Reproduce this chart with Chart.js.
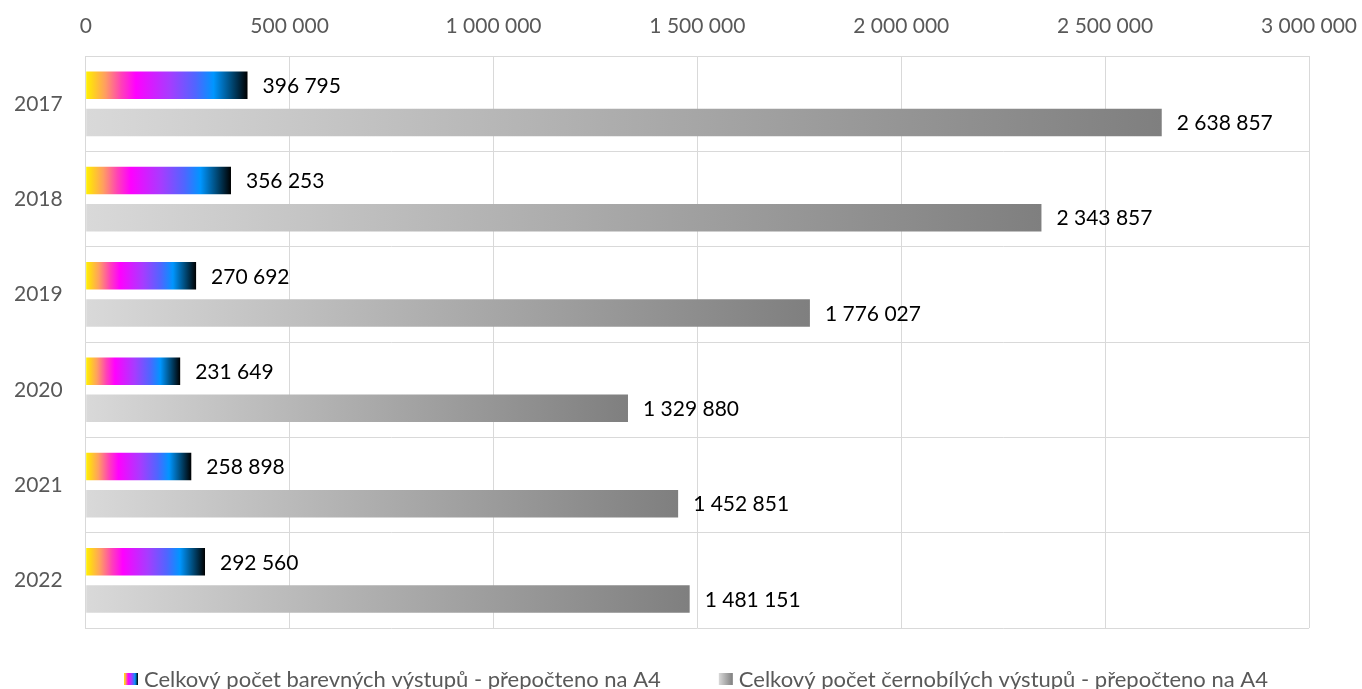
<!DOCTYPE html>
<html lang="cs">
<head>
<meta charset="utf-8">
<title>Výstupy 2017–2022</title>
<script src="https://cdn.jsdelivr.net/npm/chart.js@4/dist/chart.umd.min.js"></script>
<style>
  html, body { margin: 0; padding: 0; background: #fff; }
  #wrap { width: 1362px; height: 689px; position: relative; }
</style>
</head>
<body>
<div id="wrap"><canvas id="outputsChart"></canvas></div>
<script>
// Data
const years = ['2017', '2018', '2019', '2020', '2021', '2022'];
const colorOutputs = [396795, 356253, 270692, 231649, 258898, 292560];
const bwOutputs = [2638857, 2343857, 1776027, 1329880, 1452851, 1481151];
const xTickValues = [0, 500000, 1000000, 1500000, 2000000, 2500000, 3000000];
const seriesNames = [
    'Celkový počet barevných výstupů - přepočteno na A4',
    'Celkový počet černobílých výstupů - přepočteno na A4'
];

const FONT = 'Lato, "Open Sans", sans-serif';

// 2638857 -> "2 638 857"
function fmt(v) {
    return String(v).replace(/\B(?=(\d{3})+(?!\d))/g, ' ');
}

// colour stops of the "rainbow" fill
const rainbowStops = [
    [0.00, '#fff200'],
    [0.05, '#ffd020'],
    [0.12, '#ff9f60'],
    [0.22, '#ff40b8'],
    [0.31, '#ff00ff'],
    [0.52, '#a63cff'],
    [0.68, '#4f66ff'],
    [0.79, '#0096ff'],
    [0.90, '#004a78'],
    [1.00, '#000000']
];
const grayStops = [
    [0.00, '#d9d9d9'],
    [1.00, '#7f7f7f']
];

function makeGradient(ctx, x0, x1, stops) {
    const g = ctx.createLinearGradient(x0, 0, x1, 0);
    stops.forEach(s => g.addColorStop(s[0], s[1]));
    return g;
}

function barFill(stops, fallback) {
    return function(context) {
        const chart = context.chart;
        if (!chart.chartArea || context.raw === undefined) {
            return fallback;
        }
        const x = chart.scales.x;
        const x0 = x.getPixelForValue(0);
        const x1 = x.getPixelForValue(context.raw);
        return makeGradient(chart.ctx, x0, x1, stops);
    };
}

// value labels right of each bar
const valueLabels = {
    id: 'valueLabels',
    afterDatasetsDraw(chart) {
        const ctx = chart.ctx;
        ctx.save();
        ctx.font = '21px ' + FONT;
        ctx.fillStyle = '#000000';
        ctx.textAlign = 'left';
        ctx.textBaseline = 'middle';
        chart.data.datasets.forEach((ds, i) => {
            const meta = chart.getDatasetMeta(i);
            meta.data.forEach((bar, j) => {
                ctx.fillText(fmt(ds.data[j]), bar.x + 15, bar.y + 1);
            });
        });
        ctx.restore();
    }
};

// legend at the bottom with gradient swatches
const bottomLegend = {
    id: 'bottomLegend',
    afterDraw(chart) {
        const ctx = chart.ctx;
        const stops = [rainbowStops, grayStops];
        let x = 124;
        const y = 680;
        ctx.save();
        ctx.font = '22px ' + FONT;
        ctx.textBaseline = 'middle';
        ctx.textAlign = 'left';
        seriesNames.forEach((name, i) => {
            ctx.fillStyle = makeGradient(ctx, x, x + 14, stops[i]);
            ctx.fillRect(x, y - 7, 14, 12);
            ctx.fillStyle = '#595959';
            ctx.fillText(name, x + 20, y);
            x += 20 + ctx.measureText(name).width + 58;
        });
        ctx.restore();
    }
};

const ctx = document.getElementById('outputsChart').getContext('2d');
new Chart(ctx, {
    type: 'bar',
    data: {
        labels: years,
        datasets: [{
            label: seriesNames[0],
            data: colorOutputs,
            backgroundColor: barFill(rainbowStops, '#ff00ff'),
            borderWidth: 0,
            categoryPercentage: 0.78,
            barPercentage: 0.74
        }, {
            label: seriesNames[1],
            data: bwOutputs,
            backgroundColor: barFill(grayStops, '#aaaaaa'),
            borderWidth: 0,
            categoryPercentage: 0.78,
            barPercentage: 0.74
        }]
    },
    options: {
        indexAxis: 'y',
        responsive: true,
        maintainAspectRatio: false,
        animation: false,
        layout: {
            padding: { left: 14, right: 53, top: 14, bottom: 61 }
        },
        scales: {
            x: {
                position: 'top',
                min: 0,
                max: 3000000,
                afterBuildTicks: function(axis) {
                    axis.ticks = xTickValues.map(v => ({ value: v }));
                },
                // labels may hang over the sides, don't shrink the plot for them;
                // tick padding is counted twice by the fit, keep it once
                afterFit: function(axis) {
                    axis.paddingLeft = 0;
                    axis.paddingRight = 0;
                    axis.height -= axis.options.ticks.padding;
                },
                ticks: {
                    callback: value => fmt(value),
                    color: '#595959',
                    font: { family: FONT, size: 21 },
                    padding: 17,
                    maxRotation: 0
                },
                grid: { color: '#d9d9d9', lineWidth: 1, drawTicks: false },
                border: { color: '#d9d9d9', width: 1 }
            },
            y: {
                afterFit: function(axis) {
                    axis.paddingTop = 0;
                    axis.paddingBottom = 0;
                    axis.width -= axis.options.ticks.padding;
                },
                ticks: {
                    color: '#595959',
                    font: { family: FONT, size: 21 },
                    padding: 23
                },
                grid: { color: '#d9d9d9', lineWidth: 1, drawTicks: false, offset: true },
                border: { color: '#d9d9d9', width: 1 }
            }
        },
        plugins: {
            legend: { display: false },
            tooltip: {
                callbacks: {
                    label: context => context.dataset.label + ': ' + fmt(context.raw)
                }
            }
        }
    },
    plugins: [valueLabels, bottomLegend]
});
</script>
</body>
</html>
